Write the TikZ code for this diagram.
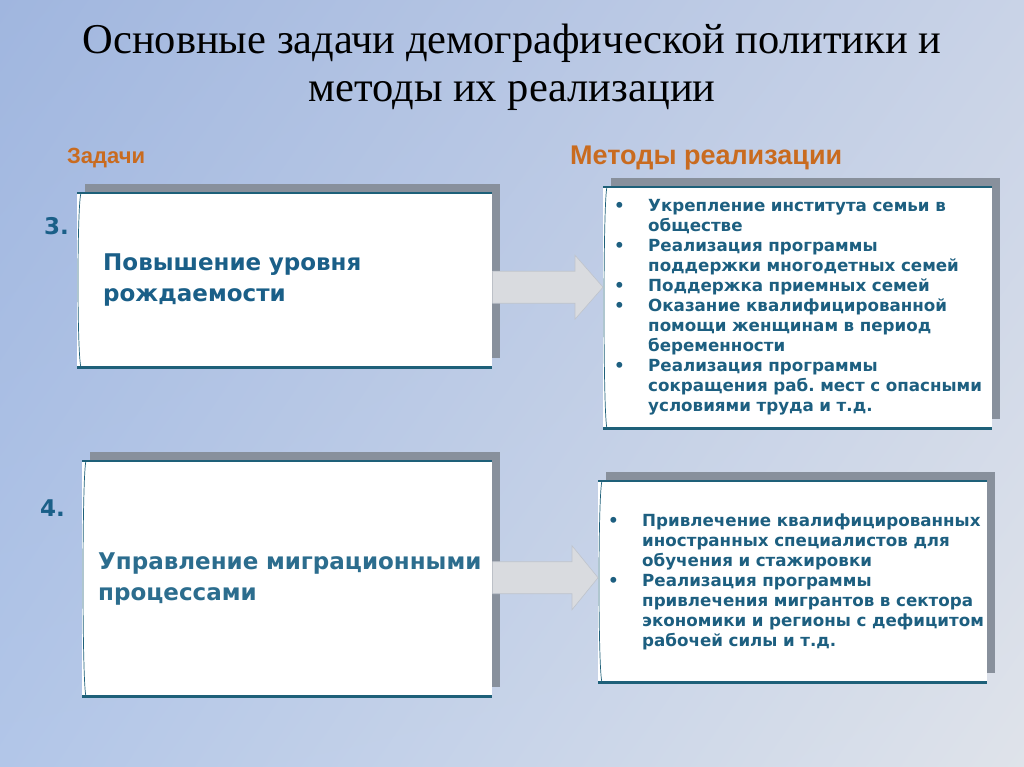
\documentclass[tikz,border=0pt]{standalone}
\usepackage{fontspec}
\setmainfont{DejaVu Sans}
\newfontfamily\titlefont{Liberation Serif}
\newfontfamily\headfont{Liberation Sans}
\usetikzlibrary{calc,shadows,shadings}
\frenchspacing

\definecolor{bgtl}{HTML}{A0B6DF}
\definecolor{bgtr}{HTML}{C9D3E7}
\definecolor{bgbl}{HTML}{B2C6E8}
\definecolor{bgbr}{HTML}{DFE3EA}
\definecolor{shadowgray}{HTML}{88909C}
\definecolor{rimteal}{HTML}{1E6079}
\definecolor{taskblue}{HTML}{1A5F88}
\definecolor{taskblue2}{HTML}{2C6D8E}
\definecolor{methblue}{HTML}{1D5F80}
\definecolor{headorange}{HTML}{C96B1F}
\definecolor{arrowgray}{HTML}{D9DBDF}
\definecolor{arrowedge}{HTML}{BFC4CC}

\newcommand\mpoint[1]{\makebox[\linewidth][l]{\makebox[34pt][l]{\textbullet}#1}}
\newcommand\mcont[1]{\makebox[\linewidth][l]{\hspace*{34pt}#1}}

\tikzset{
	box/.style={fill=white, anchor=north west, align=left, inner ysep=0pt,
		drop shadow={shadow xshift=8pt, shadow yshift=9pt, fill=shadowgray, opacity=1}},
	taskbox/.style={box, font=\bfseries\fontsize{23}{31}\selectfont},
	methbox/.style={box, text=methblue, font=\bfseries\fontsize{16.7}{20}\selectfont},
	headtext/.style={anchor=west, text=headorange, inner sep=0pt},
	numtext/.style={anchor=west, text=taskblue, inner sep=0pt, font=\bfseries\fontsize{23}{26}\selectfont},
	rim/.style={draw=rimteal, line width=2.2pt},
	siderim/.style={draw=rimteal, line width=0.7pt},
	blockarrow/.style={fill=arrowgray, draw=arrowedge, line width=0.6pt}
}

\begin{document}
\begin{tikzpicture}[x=1pt,y=-1pt]
	\shade[upper left=bgtl, upper right=bgtr, lower left=bgbl, lower right=bgbr] (0,0) rectangle (1024,767);
	\useasboundingbox (0,0) rectangle (1024,767);

	\node[align=center, font=\titlefont\fontsize{42.5}{48}\selectfont] (title) at (512,67) {Основные задачи демографической политики и\\методы их реализации};
	\node[headtext, font=\headfont\bfseries\fontsize{22}{24}\selectfont] (tasks) at (67,158) {Задачи};
	\node[headtext, font=\headfont\bfseries\fontsize{27}{30}\selectfont] (methods) at (570,158) {Методы реализации};

	\node[numtext] (n3) at (44,226) {3.};
	\node[numtext] (n4) at (40,508) {4.};

	\node[taskbox, text=taskblue, minimum width=415, minimum height=174, inner xsep=26, text width=363] (task1) at (77,193) {Повышение уровня\\рождаемости};
	\node[taskbox, text=taskblue2, minimum width=410, minimum height=235, inner xsep=16, text width=378] (task2) at (82,461) {\makebox[\linewidth][l]{Управление миграционными}\\процессами};

	\node[methbox, minimum width=389, minimum height=241, inner xsep=11, text width=367] (meth1) at (603,187) {\mpoint{Укрепление института семьи в}\\\mcont{обществе}\\\mpoint{Реализация программы}\\\mcont{поддержки многодетных семей}\\\mpoint{Поддержка приемных семей}\\\mpoint{Оказание квалифицированной}\\\mcont{помощи женщинам в период}\\\mcont{беременности}\\\mpoint{Реализация программы}\\\mcont{сокращения раб. мест с опасными}\\\mcont{условиями труда и т.д.}};
	\node[methbox, minimum width=389, minimum height=201, inner xsep=10, text width=369] (meth2) at (598,481) {\mpoint{Привлечение квалифицированных}\\\mcont{иностранных специалистов для}\\\mcont{обучения и стажировки}\\\mpoint{Реализация программы}\\\mcont{привлечения мигрантов в сектора}\\\mcont{экономики и регионы с дефицитом}\\\mcont{рабочей силы и т.д.}};

	\foreach \b in {task1,task2,meth1,meth2}{
		\draw[rim] (\b.north west) -- (\b.north east);
		\draw[rim] (\b.south west) -- (\b.south east);
		\draw[siderim] ([xshift=4pt]\b.north west) .. controls ([yshift=-12pt]\b.north west) and ([yshift=12pt]\b.south west) .. ([xshift=4pt]\b.south west);
	}

	\coordinate (a1s) at ($(task1.east)+(0,7)$);
	\coordinate (a1e) at (meth1.west |- a1s);
	\draw[blockarrow] ($(a1s)+(0,-16)$) -- ($(a1e)+(-28,-16)$) -- ($(a1e)+(-28,-32)$) -- (a1e) -- ($(a1e)+(-28,32)$) -- ($(a1e)+(-28,16)$) -- ($(a1s)+(0,16)$);
	\coordinate (a2s) at ($(task2.east)+(0,-1)$);
	\coordinate (a2e) at (meth2.west |- a2s);
	\draw[blockarrow] ($(a2s)+(0,-16)$) -- ($(a2e)+(-26,-16)$) -- ($(a2e)+(-26,-32)$) -- (a2e) -- ($(a2e)+(-26,32)$) -- ($(a2e)+(-26,16)$) -- ($(a2s)+(0,16)$);
\end{tikzpicture}
\end{document}
